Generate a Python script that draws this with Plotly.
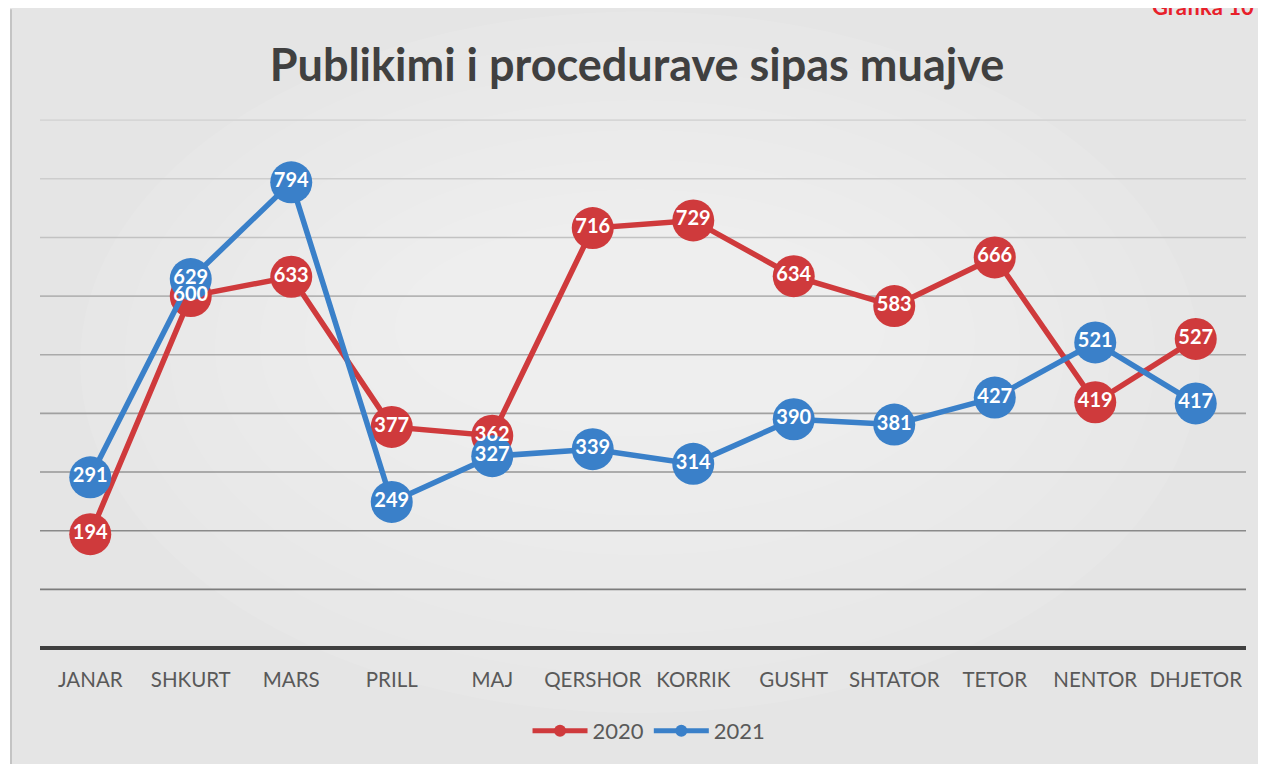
import plotly.graph_objects as go

months = ["JANAR", "SHKURT", "MARS", "PRILL", "MAJ", "QERSHOR", "KORRIK",
          "GUSHT", "SHTATOR", "TETOR", "NENTOR", "DHJETOR"]
vals_2020 = [194, 600, 633, 377, 362, 716, 729, 634, 583, 666, 419, 527]
vals_2021 = [291, 629, 794, 249, 327, 339, 314, 390, 381, 427, 521, 417]
y_ticks = [100, 200, 300, 400, 500, 600, 700, 800, 900]
grid_colors = ["#7c7c7c", "#8a8a8a", "#969696", "#a0a0a0", "#aaaaaa",
               "#b4b4b4", "#c2c2c2", "#cdcdcd", "#d6d6d6"]

RED = "#cf3a3c"
BLUE = "#3a80c9"
OFF = 8  # page body margin
W, H = 1266 - OFF, 764 - OFF
L, R, T, B = 40 - OFF, 20, 120 - OFF - 1, 110
pw, ph = W - L - R, H - T - B


def px_x(p):
    return (p - OFF - L) / pw


def px_y(p):
    return (H - B - (p - OFF)) / ph


fig = go.Figure()
for name, vals, col in [("2020", vals_2020, RED), ("2021", vals_2021, BLUE)]:
    fig.add_trace(go.Scatter(
        x=months, y=vals, name=name, mode="lines+markers",
        line=dict(color=col, width=5.5),
        marker=dict(color=col, size=42, line=dict(width=0)),
        hoverinfo="skip"))
for vals, col in [(vals_2020, RED), (vals_2021, BLUE)]:
    fig.add_trace(go.Scatter(
        x=months, y=vals, mode="text", text=[str(v) for v in vals],
        textposition="middle center", showlegend=False,
        textfont=dict(family="Lato", size=20, color="white", weight="bold"),
        hoverinfo="skip"))

shapes = []
# soft radial light in background
for i in range(8):
    shapes.append(dict(type="circle", xref="paper", yref="paper", layer="below",
                       x0=px_x(80 + i * 45), x1=px_x(1200 - i * 45),
                       y0=px_y(720 - i * 40), y1=px_y(10 + i * 30),
                       fillcolor="white", opacity=0.08, line=dict(width=0)))
# thin white margin and border on the left
shapes.append(dict(type="rect", xref="paper", yref="paper", layer="below",
                   x0=px_x(0), x1=px_x(10), y0=px_y(0), y1=px_y(800),
                   fillcolor="white", line=dict(width=0)))
shapes.append(dict(type="line", xref="paper", yref="paper", layer="below",
                   x0=px_x(11), x1=px_x(11), y0=px_y(8), y1=px_y(800),
                   line=dict(color="#c4c4c4", width=2)))
# gridlines, darker toward the bottom
for v, c in zip(y_ticks, grid_colors):
    shapes.append(dict(type="line", xref="paper", yref="y", layer="below",
                       x0=0, x1=1, y0=v, y1=v, line=dict(color=c, width=1.6)))

fig.update_layout(
    width=W, height=H,
    margin=dict(l=L, r=R, t=T, b=B),
    paper_bgcolor="#e5e5e5",
    plot_bgcolor="rgba(0,0,0,0)",
    shapes=shapes,
    title=dict(text="<b>Publikimi i procedurave sipas muajve</b>",
               x=0.5, xanchor="center", y=1 - (65 - OFF) / H, yanchor="middle",
               font=dict(family="Lato", size=45, color="#404040")),
    xaxis=dict(type="category", range=[-0.5, 11.5], showgrid=False,
               zeroline=False, showline=False, ticks="", ticklabelstandoff=17,
               tickfont=dict(family="Lato", size=20.5, color="#595959")),
    yaxis=dict(range=[0, 902], showticklabels=False, showgrid=False,
               zeroline=True, zerolinecolor="#3f3f3f", zerolinewidth=3.5,
               showline=False, ticks=""),
    legend=dict(orientation="h", x=0.505, xanchor="center",
                y=px_y(738), yanchor="middle", itemwidth=55,
                itemsizing="constant",
                font=dict(family="Lato", size=22, color="#595959"),
                bgcolor="rgba(255,255,255,0)"),
    annotations=[dict(text="<b>Grafika 10</b>", xref="paper", yref="paper",
                      x=px_x(1150), y=px_y(21), xanchor="left", yanchor="bottom",
                      showarrow=False,
                      font=dict(family="Lato", size=22, color="#e8202a"))],
    showlegend=True,
)

fig.write_html("out.html")
